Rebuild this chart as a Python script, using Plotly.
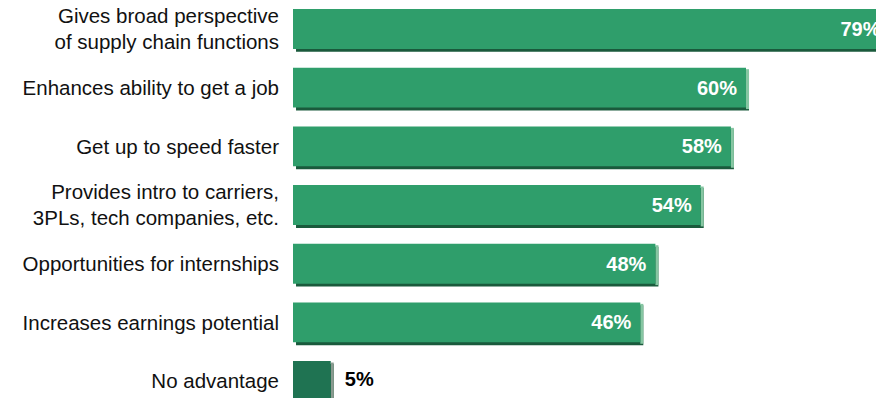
import plotly.graph_objects as go

# Survey: advantages of a supply chain degree / program
categories = [
    "Gives broad perspective<br>of supply chain functions",
    "Enhances ability to get a job",
    "Get up to speed faster",
    "Provides intro to carriers,<br>3PLs, tech companies, etc.",
    "Opportunities for internships",
    "Increases earnings potential",
    "No advantage",
]
values = [79, 60, 58, 54, 48, 46, 5]
labels = ["79%", "60%", "58%", "54%", "48%", "46%", "5%"]

FONT = "Liberation Sans, Arial, Helvetica, sans-serif"

# styling
face = ["#2f9e6b"] * 6 + ["#1f7352"]
side = ["#86c6a2"] * 6 + ["#8a9a90"]
under = ["#1a5a3c"] * 7

idx = list(range(len(categories)))
bar_w = 0.68
depth_y = 0.05    # extrusion depth along the category axis
depth_x = 0.4     # extrusion depth along the value axis
label_lift = 0.035  # nudge value labels up to sit optically centred

inside = [v >= 10 for v in values]

fig = go.Figure()

# bottom extrusion (dark)
fig.add_trace(go.Bar(
    y=idx, x=values, base=[depth_x] * len(values), orientation="h",
    width=bar_w, offset=-bar_w / 2 + depth_y,
    marker=dict(color=under, line=dict(width=0)),
    hoverinfo="skip", showlegend=False,
))
# right-side extrusion (light)
fig.add_trace(go.Bar(
    y=idx, x=[depth_x] * len(values), base=values, orientation="h",
    width=bar_w, offset=-bar_w / 2 + depth_y * 0.5,
    marker=dict(color=side, line=dict(width=0)),
    hoverinfo="skip", showlegend=False,
))
# bar faces
fig.add_trace(go.Bar(
    y=idx, x=values, orientation="h", width=bar_w,
    marker=dict(color=face, line=dict(width=0)),
    showlegend=False, hoverinfo="skip",
))

# white value labels at the inner end of long bars (shape labels stay
# visible even where a bar runs past the right edge of the plot)
for i, (v, lab, ins) in enumerate(zip(values, labels, inside)):
    if not ins:
        continue
    fig.add_shape(
        type="rect", xref="x", yref="y",
        x0=0, x1=v,
        y0=i - bar_w / 2 - label_lift, y1=i + bar_w / 2 - label_lift,
        line=dict(width=0), fillcolor="rgba(0,0,0,0)",
        label=dict(text=f"<b>{lab}</b>", textposition="middle right", padding=6,
                   font=dict(family=FONT, size=20, color="white")),
    )

# black labels beside short bars
out_idx = [i for i, ins in enumerate(inside) if not ins]
fig.add_trace(go.Scatter(
    y=out_idx, x=[values[i] + depth_x for i in out_idx],
    text=[labels[i] for i in out_idx],
    mode="markers+text", textposition="middle right",
    marker=dict(size=16, color="rgba(0,0,0,0)"),
    textfont=dict(family=FONT, size=20, color="black", weight="bold"),
    hoverinfo="skip", showlegend=False, cliponaxis=False,
))

fig.update_layout(
    width=876, height=398,
    margin=dict(l=293, r=0, t=0, b=0),
    paper_bgcolor="white", plot_bgcolor="white",
    barmode="overlay",
    font=dict(family=FONT, size=20, color="black"),
    xaxis=dict(visible=False, range=[0, 583 / 7.55]),
    yaxis=dict(
        range=[6.289, -0.494], tickmode="array", tickvals=idx, ticktext=categories,
        showgrid=False, zeroline=False, showline=False, ticks="",
        ticklabelstandoff=13,
        tickfont=dict(family=FONT, size=20.5, color="#111"),
    ),
)

fig.write_html("out.html")
